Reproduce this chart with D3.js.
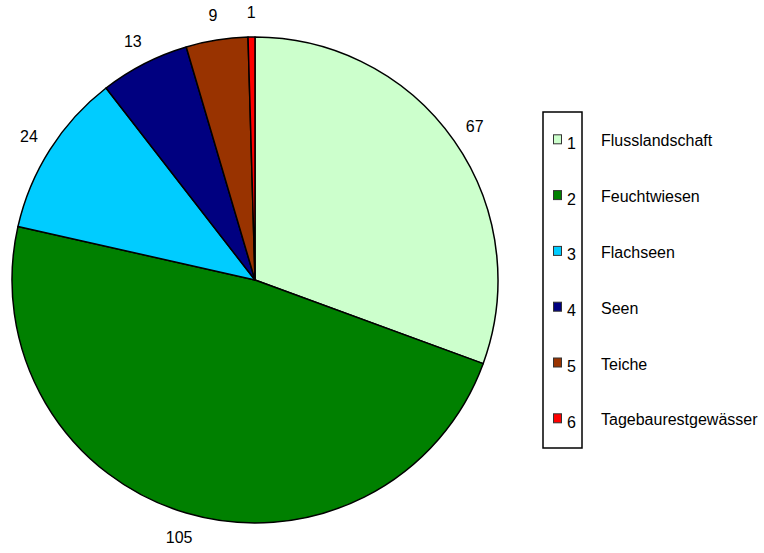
<!DOCTYPE html>
<html>
<head>
<meta charset="utf-8">
<script src="https://cdn.jsdelivr.net/npm/d3@7"></script>
<style>
  html, body { margin: 0; padding: 0; background: #fff; }
  svg { display: block; }
  text { font-family: "Liberation Sans", Arial, sans-serif; fill: #000; }
</style>
</head>
<body>
<svg id="chart" width="764" height="553"></svg>
<script>
// Gewässertypen: Anzahl je Kategorie
const categories = ["Flusslandschaft", "Feuchtwiesen", "Flachseen", "Seen", "Teiche", "Tagebaurestgewässer"];
const keys = ["1", "2", "3", "4", "5", "6"];
const values = [67, 105, 24, 13, 9, 1];
const colors = ["#CCFFCC", "#008000", "#00CCFF", "#000080", "#993300", "#FF0000"];

const svg = d3.select("#chart");

// Pie geometry
const cx = 255, cy = 280, radius = 243;
const labelRadius = 268;
const fontSize = 16;

const data = categories.map((c, i) => ({ name: c, key: keys[i], value: values[i], color: colors[i] }));

const pie = d3.pie()
  .value(d => d.value)
  .sort(null)
  .startAngle(0)
  .endAngle(2 * Math.PI);

const arcs = pie(data);
const arc = d3.arc().innerRadius(0).outerRadius(radius);
const labelArc = d3.arc().innerRadius(labelRadius).outerRadius(labelRadius);

const g = svg.append("g").attr("transform", `translate(${cx},${cy})`);

g.selectAll("path.slice")
  .data(arcs)
  .join("path")
  .attr("class", "slice")
  .attr("d", arc)
  .attr("fill", d => d.data.color)
  .attr("stroke", "#000")
  .attr("stroke-width", 1.5)
  .attr("stroke-linejoin", "round");

// Value labels outside the slices
g.selectAll("text.val")
  .data(arcs)
  .join("text")
  .attr("class", "val")
  .attr("x", d => labelArc.centroid(d)[0])
  .attr("y", d => labelArc.centroid(d)[1])
  .attr("text-anchor", "middle")
  .attr("dominant-baseline", "central")
  .attr("font-size", fontSize)
  .text(d => d.data.value);

// Legend
const legend = { x: 543, y: 112, w: 39, h: 336, top: 139.3, step: 55.8 };
const rowY = d3.scaleLinear().domain([0, 1]).range([legend.top, legend.top + legend.step]);

svg.append("rect")
  .attr("x", legend.x)
  .attr("y", legend.y)
  .attr("width", legend.w)
  .attr("height", legend.h)
  .attr("fill", "none")
  .attr("stroke", "#000")
  .attr("stroke-width", 1.5);

const rows = svg.selectAll("g.leg")
  .data(data)
  .join("g")
  .attr("class", "leg")
  .attr("transform", (d, i) => `translate(0,${rowY(i)})`);

rows.append("rect")
  .attr("x", 553.5)
  .attr("y", -4.5)
  .attr("width", 8)
  .attr("height", 9)
  .attr("fill", d => d.color)
  .attr("stroke", "#333")
  .attr("stroke-width", 1);

rows.append("text")
  .attr("x", 567)
  .attr("y", 9.5)
  .attr("font-size", fontSize)
  .text(d => d.key);

rows.append("text")
  .attr("x", 601)
  .attr("y", 7)
  .attr("font-size", fontSize)
  .text(d => d.name);
</script>
</body>
</html>
